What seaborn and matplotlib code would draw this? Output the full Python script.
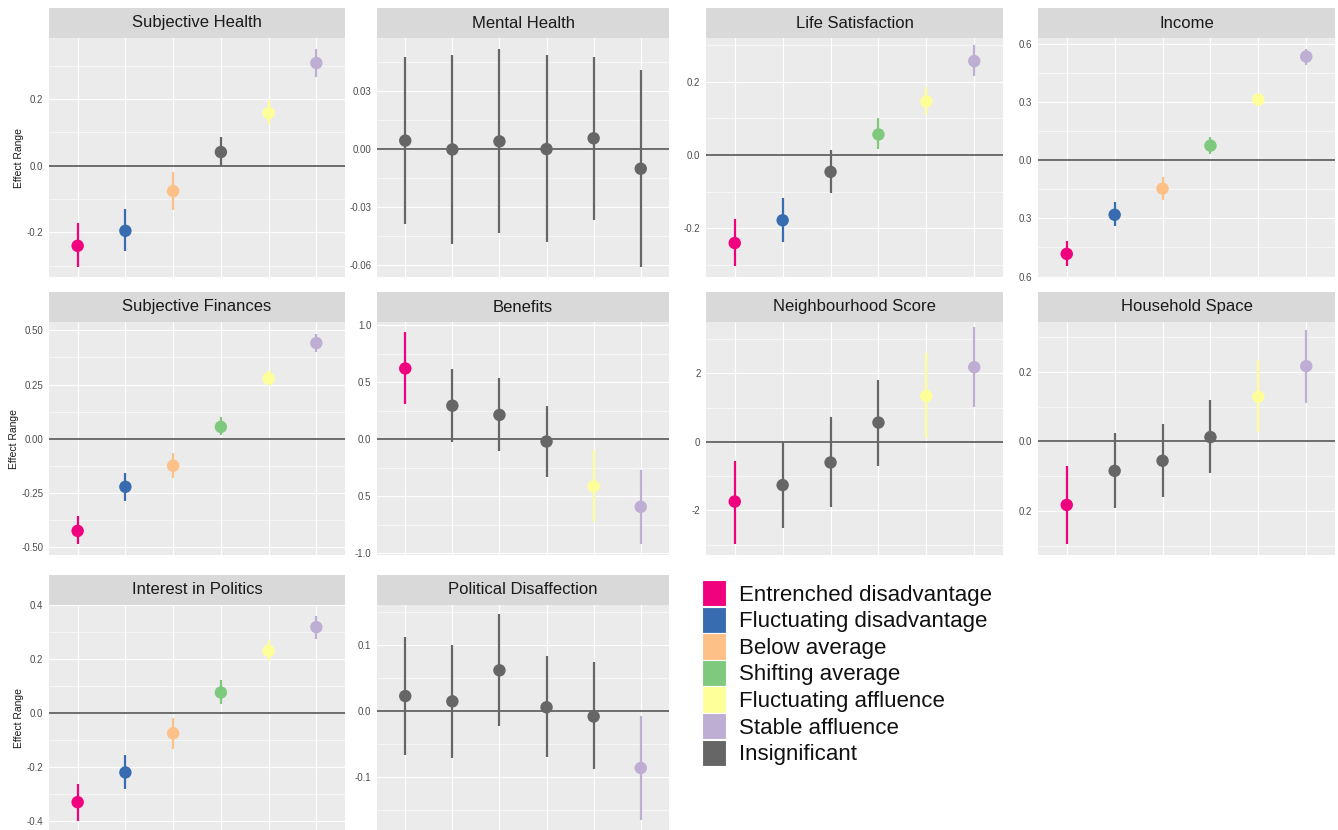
import pandas as pd
import matplotlib
matplotlib.use("Agg")
import matplotlib.pyplot as plt
from matplotlib.patches import Patch
from matplotlib.ticker import FixedLocator
import seaborn as sns

# Trajectory groups (x positions 1..6) and legend
groups = ["Entrenched disadvantage", "Fluctuating disadvantage", "Below average",
          "Shifting average", "Fluctuating affluence", "Stable affluence"]
legend_labels = groups + ["Insignificant"]
colours = ["#F0027F", "#386CB0", "#FDC086", "#7FC97F", "#FFFF99", "#BEAED4", "#666666"]

# Subjective Health
sh_est = [-0.240, -0.195, -0.076, 0.041, 0.158, 0.308]
sh_lo = [-0.304, -0.256, -0.134, -0.002, 0.121, 0.266]
sh_hi = [-0.172, -0.131, -0.019, 0.086, 0.196, 0.349]
sh_sig = [1, 1, 1, 0, 1, 1]

# Mental Health
mh_est = [0.0044, -0.0002, 0.0040, 0.0000, 0.0056, -0.0102]
mh_lo = [-0.0388, -0.0492, -0.0437, -0.0484, -0.0366, -0.0614]
mh_hi = [0.0478, 0.0490, 0.0522, 0.0490, 0.0478, 0.0413]
mh_sig = [0, 0, 0, 0, 0, 0]

# Life Satisfaction
ls_est = [-0.240, -0.178, -0.046, 0.056, 0.146, 0.256]
ls_lo = [-0.304, -0.238, -0.104, 0.015, 0.110, 0.215]
ls_hi = [-0.174, -0.116, 0.014, 0.102, 0.185, 0.300]
ls_sig = [1, 1, 0, 1, 1, 1]

# Income
in_est = [-0.483, -0.281, -0.146, 0.076, 0.314, 0.536]
in_lo = [-0.548, -0.341, -0.203, 0.033, 0.283, 0.495]
in_hi = [-0.414, -0.215, -0.086, 0.121, 0.349, 0.576]
in_sig = [1, 1, 1, 1, 1, 1]

# Subjective Finances
sf_est = [-0.424, -0.221, -0.124, 0.055, 0.278, 0.441]
sf_lo = [-0.486, -0.285, -0.180, 0.017, 0.244, 0.398]
sf_hi = [-0.356, -0.159, -0.063, 0.101, 0.316, 0.485]
sf_sig = [1, 1, 1, 1, 1, 1]

# Benefits
be_est = [0.619, 0.293, 0.212, -0.021, -0.413, -0.593]
be_lo = [0.308, -0.026, -0.102, -0.335, -0.724, -0.916]
be_hi = [0.940, 0.613, 0.532, 0.293, -0.099, -0.268]
be_sig = [1, 0, 0, 0, 1, 1]

# Neighbourhood Score
ns_est = [-1.74, -1.26, -0.60, 0.565, 1.34, 2.18]
ns_lo = [-2.99, -2.52, -1.90, -0.69, 0.10, 1.01]
ns_hi = [-0.57, 0.00, 0.72, 1.80, 2.59, 3.36]
ns_sig = [1, 0, 0, 0, 1, 1]

# Household Space
hs_est = [-0.183, -0.085, -0.056, 0.012, 0.128, 0.216]
hs_lo = [-0.296, -0.191, -0.161, -0.091, 0.027, 0.111]
hs_hi = [-0.070, 0.024, 0.051, 0.118, 0.233, 0.320]
hs_sig = [1, 0, 0, 0, 1, 1]

# Interest in Politics
ip_est = [-0.330, -0.220, -0.075, 0.076, 0.230, 0.318]
ip_lo = [-0.398, -0.281, -0.134, 0.034, 0.193, 0.275]
ip_hi = [-0.262, -0.155, -0.018, 0.122, 0.269, 0.361]
ip_sig = [1, 1, 1, 1, 1, 1]

# Political Disaffection
pd_est = [0.022, 0.014, 0.061, 0.005, -0.009, -0.087]
pd_lo = [-0.067, -0.072, -0.024, -0.071, -0.089, -0.166]
pd_hi = [0.112, 0.100, 0.147, 0.083, 0.074, -0.008]
pd_sig = [0, 0, 0, 0, 0, 1]

panels = [
    ("Subjective Health", sh_est, sh_lo, sh_hi, sh_sig),
    ("Mental Health", mh_est, mh_lo, mh_hi, mh_sig),
    ("Life Satisfaction", ls_est, ls_lo, ls_hi, ls_sig),
    ("Income", in_est, in_lo, in_hi, in_sig),
    ("Subjective Finances", sf_est, sf_lo, sf_hi, sf_sig),
    ("Benefits", be_est, be_lo, be_hi, be_sig),
    ("Neighbourhood Score", ns_est, ns_lo, ns_hi, ns_sig),
    ("Household Space", hs_est, hs_lo, hs_hi, hs_sig),
    ("Interest in Politics", ip_est, ip_lo, ip_hi, ip_sig),
    ("Political Disaffection", pd_est, pd_lo, pd_hi, pd_sig),
]

# axis setup per panel: ylim, major ticks, tick labels (as printed), minor ticks
axis_cfg = {
    "Subjective Health": ((-0.335, 0.383), [-0.2, 0, 0.2], ["-0.2", "0.0", "0.2"], [-0.3, -0.1, 0.1, 0.3]),
    "Mental Health": ((-0.0667, 0.0577), [-0.06, -0.03, 0, 0.03], ["-0.06", "-0.03", "0.00", "0.03"],
                      [-0.045, -0.015, 0.015, 0.045]),
    "Life Satisfaction": ((-0.334, 0.319), [-0.2, 0, 0.2], ["-0.2", "0.0", "0.2"], [-0.3, -0.1, 0.1, 0.3]),
    "Income": ((-0.605, 0.632), [-0.6, -0.3, 0, 0.3, 0.6], ["0.6", "0.3", "0.0", "0.3", "0.6"],
               [-0.45, -0.15, 0.15, 0.45]),
    "Subjective Finances": ((-0.535, 0.538), [-0.5, -0.25, 0, 0.25, 0.5],
                            ["-0.50", "-0.25", "0.00", "0.25", "0.50"], [-0.375, -0.125, 0.125, 0.375]),
    "Benefits": ((-1.015, 1.026), [-1, -0.5, 0, 0.5, 1], ["-1.0", "0.5", "0.0", "0.5", "1.0"],
                 [-0.75, -0.25, 0.25, 0.75]),
    "Neighbourhood Score": ((-3.3, 3.5), [-2, 0, 2], ["-2", "0", "2"], [-3, -1, 1, 3]),
    "Household Space": ((-0.327, 0.343), [-0.2, 0, 0.2], ["0.2", "0.0", "0.2"], [-0.3, -0.1, 0.1, 0.3]),
    "Interest in Politics": ((-0.433, 0.391), [-0.4, -0.2, 0, 0.2, 0.4], ["-0.4", "-0.2", "0.0", "0.2", "0.4"],
                             [-0.3, -0.1, 0.1, 0.3]),
    "Political Disaffection": ((-0.181, 0.16), [-0.1, 0, 0.1], ["-0.1", "0.0", "0.1"], [-0.15, -0.05, 0.05, 0.15]),
}

# panel boxes in pixels: (left, right, top of plot, bottom of plot)
W, H = 1338, 830
cols = [(49, 345), (377, 669), (706, 1003), (1038, 1335)]
rows = [(38, 277.5), (322, 555), (605, 830)]
strip_h = 30

sns.set_theme(style="darkgrid")
plt.rcParams["font.family"] = ["Liberation Sans", "DejaVu Sans"]

fig = plt.figure(figsize=(W / 100, H / 100), dpi=100)
fig.patch.set_facecolor("white")

palette = dict(zip(legend_labels, colours))

for i, (title, est, lo, hi, sig) in enumerate(panels):
    r, c = divmod(i, 4)
    x0, x1 = cols[c]
    y0, y1 = rows[r]
    ax = fig.add_axes([x0 / W, 1 - y1 / H, (x1 - x0) / W, (y1 - y0) / H])
    sax = fig.add_axes([x0 / W, 1 - y0 / H, (x1 - x0) / W, strip_h / H])
    sax.set_facecolor("#D9D9D9")
    sax.set_xticks([])
    sax.set_yticks([])
    for s in sax.spines.values():
        s.set_visible(False)
    sax.text(0.5, 0.5, title, ha="center", va="center", fontsize=12, color="#1A1A1A",
             transform=sax.transAxes)

    df = pd.DataFrame({
        "x": range(1, 7),
        "est": est, "lo": lo, "hi": hi,
        "group": [g if s else "Insignificant" for g, s in zip(groups, sig)],
    })
    ylim, ticks, labels, minor = axis_cfg[title]

    ax.set_facecolor("#EBEBEB")
    ax.axhline(0, color="#555555", lw=1.2, zorder=1)
    ax.vlines(df["x"], df["lo"], df["hi"], colors=[palette[g] for g in df["group"]], lw=1.6, zorder=2)
    sns.scatterplot(data=df, x="x", y="est", hue="group", palette=palette, s=80,
                    linewidth=0, legend=False, ax=ax, zorder=3)

    ax.set_xlim(0.4, 6.6)
    ax.set_ylim(*ylim)
    ax.set_xticks(range(1, 7))
    ax.set_xticklabels([])
    ax.set_yticks(ticks)
    ax.set_yticklabels(labels)
    ax.yaxis.set_minor_locator(FixedLocator(minor))
    ax.grid(which="major", color="white", lw=0.8)
    ax.grid(which="minor", axis="y", color="white", lw=0.4)
    ax.tick_params(axis="x", length=0)
    ax.tick_params(axis="y", which="major", length=2.5, width=0.6, color="#333333",
                   labelsize=7, labelcolor="#4D4D4D", pad=1.5)
    ax.tick_params(axis="y", which="minor", length=0)
    ax.set_xlabel("")
    ax.set_ylabel("")
    for s in ax.spines.values():
        s.set_visible(False)

    if c == 0:
        ax.set_ylabel("Effect Range", fontsize=7.5, color="#1A1A1A", labelpad=2)

handles = [Patch(facecolor=col, edgecolor="white", linewidth=0.8) for col in colours]
fig.legend(handles, legend_labels, loc="upper left", bbox_to_anchor=(702 / W, 1 - 580 / H),
           frameon=False, fontsize=16, handlelength=1.1, handleheight=1.45,
           labelspacing=0.01, handletextpad=0.55, borderpad=0, borderaxespad=0,
           labelcolor="#111111")

fig.savefig("out.png", dpi=100, facecolor="white")
